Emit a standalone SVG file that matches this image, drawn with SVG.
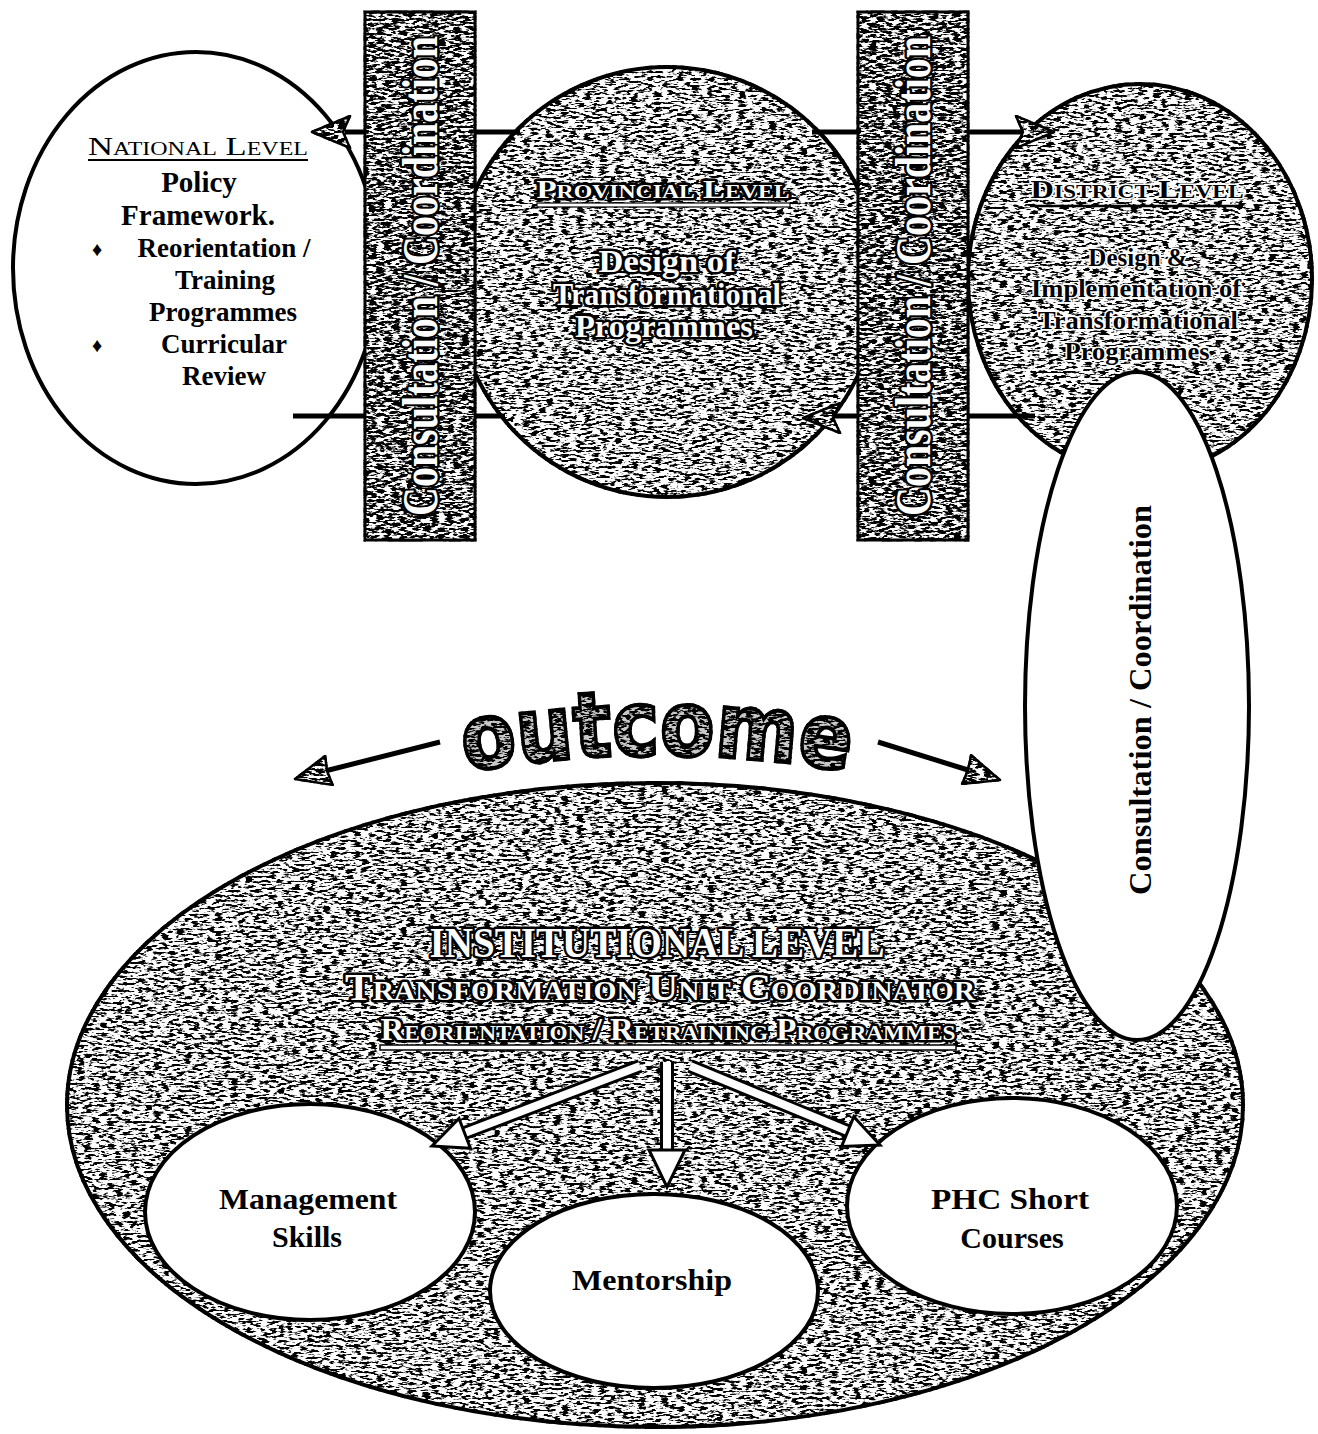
<svg xmlns="http://www.w3.org/2000/svg" width="1318" height="1434" viewBox="0 0 1318 1434">
<defs>
<filter id="tex" x="-3%" y="-3%" width="106%" height="106%" color-interpolation-filters="sRGB">
<feTurbulence type="fractalNoise" baseFrequency="0.13 0.42" numOctaves="3" seed="5" result="n"/>
<feColorMatrix in="n" type="matrix" values="0 0 0 0 0  0 0 0 0 0  0 0 0 0 0  -9 0 0 0 4.6" result="d"/>
<feComposite in="d" in2="SourceGraphic" operator="in" result="dc"/>
<feMerge><feMergeNode in="SourceGraphic"/><feMergeNode in="dc"/></feMerge>
</filter>
<filter id="texd" x="-3%" y="-3%" width="106%" height="106%" color-interpolation-filters="sRGB">
<feTurbulence type="fractalNoise" baseFrequency="0.13 0.42" numOctaves="3" seed="9" result="n"/>
<feColorMatrix in="n" type="matrix" values="0 0 0 0 0  0 0 0 0 0  0 0 0 0 0  -9 0 0 0 5.1" result="d"/>
<feComposite in="d" in2="SourceGraphic" operator="in" result="dc"/>
<feMerge><feMergeNode in="SourceGraphic"/><feMergeNode in="dc"/></feMerge>
</filter>
<style>
.tx{fill:#fff;stroke:#000;stroke-width:4;filter:url(#tex)}
.wh{fill:#fff;stroke:#000;stroke-width:4}
.bar{fill:#fff;stroke:#000;stroke-width:3;filter:url(#texd)}
.sf{font-family:"Liberation Serif","Times New Roman",serif;font-weight:bold;text-anchor:middle}
.sc{font-variant:small-caps}
.wt{fill:#fff;stroke:#000;stroke-width:5;paint-order:stroke;stroke-linejoin:round}
.bt{fill:#000}
.bh{fill:#000;stroke:#fff;stroke-width:3;paint-order:stroke;stroke-linejoin:round}
.ln{stroke:#000;stroke-width:5;fill:none}
.ah{fill:#fff;stroke:#000;stroke-width:2.5;stroke-linejoin:round;filter:url(#texd)}
.wa{stroke:#000;stroke-width:14;fill:none}
.wa2{stroke:#fff;stroke-width:8;fill:none}
.wh2{fill:#fff;stroke:#000;stroke-width:3;stroke-linejoin:miter}
</style>
</defs>

<g id="institutional">
<ellipse class="tx" cx="655" cy="1105" rx="588" ry="322"/>
<text class="sf wt" x="657" y="957" font-size="42" textLength="455" lengthAdjust="spacingAndGlyphs">INSTITUTIONAL LEVEL</text>
<text class="sf sc wt" x="660" y="1000" font-size="38" textLength="630" lengthAdjust="spacingAndGlyphs">Transformation Unit Coordinator</text>
<text class="sf sc wt" x="668" y="1040" font-size="31" textLength="575" lengthAdjust="spacingAndGlyphs">Reorientation / Retraining Programmes</text>
<rect x="380" y="1045" width="576" height="5" fill="#fff" stroke="#000" stroke-width="1.5"/>
</g>

<g id="management">
<ellipse class="wh" cx="310" cy="1212" rx="165" ry="108"/>
<text class="sf bt" x="308" y="1209" font-size="30" textLength="178" lengthAdjust="spacingAndGlyphs">Management</text>
<text class="sf bt" x="307" y="1247" font-size="30">Skills</text>
</g>

<g id="mentorship">
<ellipse class="wh" cx="654" cy="1291" rx="164" ry="97"/>
<text class="sf bt" x="652" y="1290" font-size="30" textLength="160" lengthAdjust="spacingAndGlyphs">Mentorship</text>
</g>

<g id="phc">
<ellipse class="wh" cx="1012" cy="1206" rx="165" ry="108"/>
<text class="sf bt" x="1010" y="1209" font-size="30" textLength="158" lengthAdjust="spacingAndGlyphs">PHC Short</text>
<text class="sf bt" x="1012" y="1248" font-size="30">Courses</text>
</g>

<g id="national">
<ellipse class="wh" cx="196" cy="268" rx="183" ry="216"/>
<text class="sf sc bt" x="198" y="155" font-size="26" textLength="220" lengthAdjust="spacingAndGlyphs" style="font-weight:normal">National Level</text>
<line x1="88" y1="160" x2="308" y2="160" stroke="#000" stroke-width="2"/>
<text class="sf bt" x="199" y="192" font-size="29">Policy</text>
<text class="sf bt" x="198" y="225" font-size="29">Framework.</text>
<text class="sf bt" x="97" y="256" font-size="20">♦</text>
<text class="sf bt" x="224" y="257" font-size="27" textLength="173" lengthAdjust="spacingAndGlyphs">Reorientation /</text>
<text class="sf bt" x="225" y="289" font-size="27">Training</text>
<text class="sf bt" x="223" y="321" font-size="27">Programmes</text>
<text class="sf bt" x="97" y="352" font-size="20">♦</text>
<text class="sf bt" x="224" y="353" font-size="27">Curricular</text>
<text class="sf bt" x="224" y="385" font-size="27">Review</text>
</g>

<g id="district">
<ellipse class="tx" cx="1140" cy="279" rx="172" ry="195"/>
<text class="sf sc bh" x="1137" y="198" font-size="25" textLength="213" lengthAdjust="spacingAndGlyphs">District Level</text>
<line x1="1030" y1="206" x2="1243" y2="206" stroke="#000" stroke-width="2.5"/>
<text class="sf bh" x="1138" y="266" font-size="25">Design &amp;</text>
<text class="sf bh" x="1136" y="297" font-size="25" textLength="210" lengthAdjust="spacingAndGlyphs">Implementation of</text>
<text class="sf bh" x="1138" y="329" font-size="25" textLength="200" lengthAdjust="spacingAndGlyphs">Transformational</text>
<text class="sf bh" x="1137" y="360" font-size="25" textLength="145" lengthAdjust="spacingAndGlyphs">Programmes</text>
</g>

<g id="consultation-ellipse">
<ellipse class="wh" cx="1137" cy="706" rx="112" ry="334"/>
<text class="sf bt" transform="translate(1151,700) rotate(-90)" x="0" y="0" font-size="31" textLength="390" lengthAdjust="spacingAndGlyphs">Consultation / Coordination</text>
</g>

<g id="provincial">
<ellipse class="tx" cx="667" cy="282" rx="212" ry="215"/>
<text class="sf sc wt" x="663" y="198" font-size="25" textLength="253" lengthAdjust="spacingAndGlyphs">Provincial Level</text>
<rect x="537" y="203" width="253" height="4" fill="#fff" stroke="#000" stroke-width="1.2"/>
<text class="sf wt" x="667" y="272" font-size="31" textLength="137" lengthAdjust="spacingAndGlyphs">Design of</text>
<text class="sf wt" x="667" y="305" font-size="31" textLength="228" lengthAdjust="spacingAndGlyphs">Transformational</text>
<text class="sf wt" x="664" y="337" font-size="31" textLength="178" lengthAdjust="spacingAndGlyphs">Programmes</text>
</g>

<g id="connectors">
<line class="ln" x1="520" y1="132" x2="345" y2="132"/>
<polygon class="ah" points="312,132 350,116 343,132 350,148"/>
<line class="ln" x1="812" y1="132" x2="1022" y2="132"/>
<polygon class="ah" points="1054,132 1016,116 1023,132 1016,148"/>
<line class="ln" x1="293" y1="416" x2="505" y2="416"/>
<line class="ln" x1="1035" y1="416" x2="832" y2="416"/>
<polygon class="ah" points="803,418 840,403 833,418 840,433"/>
<line class="ln" x1="440" y1="742" x2="325" y2="771"/>
<polygon class="ah" points="295,779 325.2,755.9 327,771 332.6,784.9"/>
<line class="ln" x1="878" y1="742" x2="968" y2="770"/>
<polygon class="ah" points="1000,780 971.1,755.3 968,770 962.1,783.9"/>
<path class="wa" d="M640,1066 L462,1134"/>
<path class="wa" d="M667,1062 L667,1152"/>
<path class="wa" d="M690,1066 L850,1132"/>
<path class="wa2" d="M640,1066 L462,1134"/>
<path class="wa2" d="M667,1062 L667,1152"/>
<path class="wa2" d="M690,1066 L850,1132"/>
<polygon class="wh2" points="432,1146 459,1118.5 470.4,1148.3"/>
<polygon class="wh2" points="667,1187 649,1150 685,1150"/>
<polygon class="wh2" points="880,1145 853.8,1116.8 841.6,1146.4"/>
</g>

<g id="bar-left">
<rect class="bar" x="365" y="12" width="110" height="528"/>
<text class="sf wt" transform="translate(437,276) rotate(-90) scale(1,1.25)" x="0" y="0" font-size="40" style="stroke-width:4">Consultation / Coordination</text>
</g>

<g id="bar-right">
<rect class="bar" x="858" y="12" width="110" height="528"/>
<text class="sf wt" transform="translate(930,276) rotate(-90) scale(1,1.25)" x="0" y="0" font-size="40" style="stroke-width:4">Consultation / Coordination</text>
</g>

<g id="outcome">
<path id="arc" d="M 462 772 Q 657 738 852 772" fill="none"/>
<text font-family="'DejaVu Sans', Verdana, sans-serif" font-weight="bold" font-size="90" fill="#c8c8c8" stroke="#000" stroke-width="4" style="filter:url(#texd)" text-anchor="middle"><textPath href="#arc" startOffset="50%" textLength="385" lengthAdjust="spacingAndGlyphs">outcome</textPath></text>
</g>
</svg>
